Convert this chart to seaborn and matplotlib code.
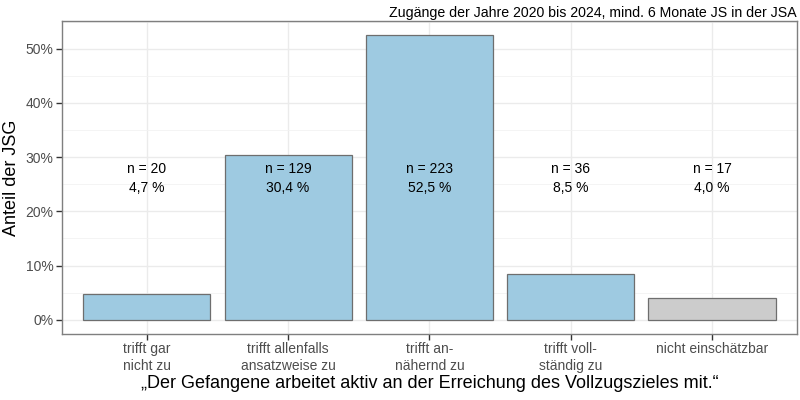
import matplotlib
matplotlib.use("Agg")
import matplotlib.pyplot as plt
import seaborn as sns
import pandas as pd
from matplotlib.ticker import FuncFormatter, MultipleLocator

# data
categories = ["trifft gar\nnicht zu", "trifft allenfalls\nansatzweise zu", "trifft an-\nnähernd zu",
              "trifft voll-\nständig zu", "nicht einschätzbar"]
counts = [20, 129, 223, 36, 17]
shares = [4.7, 30.4, 52.5, 8.5, 4.0]
bar_colors = ["#9ecae1", "#9ecae1", "#9ecae1", "#9ecae1", "#cccccc"]

df = pd.DataFrame({"cat": categories, "share": shares, "n": counts})

sns.set_theme(style="whitegrid")
plt.rcParams["font.family"] = ["Liberation Sans", "DejaVu Sans"]

fig = plt.figure(figsize=(8, 4), dpi=100)
ax = fig.add_axes([0.0775, 0.165, 0.9185, 0.7825])

sns.barplot(data=df, x="cat", y="share", hue="cat", palette=bar_colors, legend=False,
            saturation=1, width=0.9, edgecolor="#6e6e6e", linewidth=0.9, ax=ax, zorder=2)

# n and percent labels at fixed height
for i, (n, s) in enumerate(zip(counts, shares)):
    ax.text(i, 27.9, f"n = {n}", ha="center", va="center", fontsize=10, color="black", zorder=3)
    ax.text(i, 24.3, f"{s:.1f} %".replace(".", ","), ha="center", va="center", fontsize=10,
            color="black", zorder=3)

ax.set_ylim(-2.625, 55.125)
ax.set_xlim(-0.6, 4.6)
ax.yaxis.set_major_locator(MultipleLocator(10))
ax.yaxis.set_minor_locator(MultipleLocator(5))
ax.yaxis.set_major_formatter(FuncFormatter(lambda v, p: f"{v:.0f}%"))
ax.grid(which="major", color="#ebebeb", linewidth=1.0, zorder=0)
ax.grid(which="minor", axis="y", color="#f2f2f2", linewidth=0.6, zorder=0)
ax.set_axisbelow(True)
for sp in ax.spines.values():
    sp.set_color("#7f7f7f")
    sp.set_linewidth(1.0)

ax.tick_params(axis="both", which="major", length=4, width=1, color="#333333",
               labelcolor="#4d4d4d", labelsize=10, pad=2, bottom=True, left=True)
ax.tick_params(axis="y", which="minor", length=0)

ax.set_ylabel("Anteil der JSG", fontsize=13, color="black", labelpad=4)
ax.set_xlabel("„Der Gefangene arbeitet aktiv an der Erreichung des Vollzugszieles mit.“",
              fontsize=13, color="black", labelpad=2)
ax.set_title("Zugänge der Jahre 2020 bis 2024, mind. 6 Monate JS in der JSA",
             loc="right", fontsize=10.2, color="black", pad=3)

fig.savefig("out.png", dpi=100)
